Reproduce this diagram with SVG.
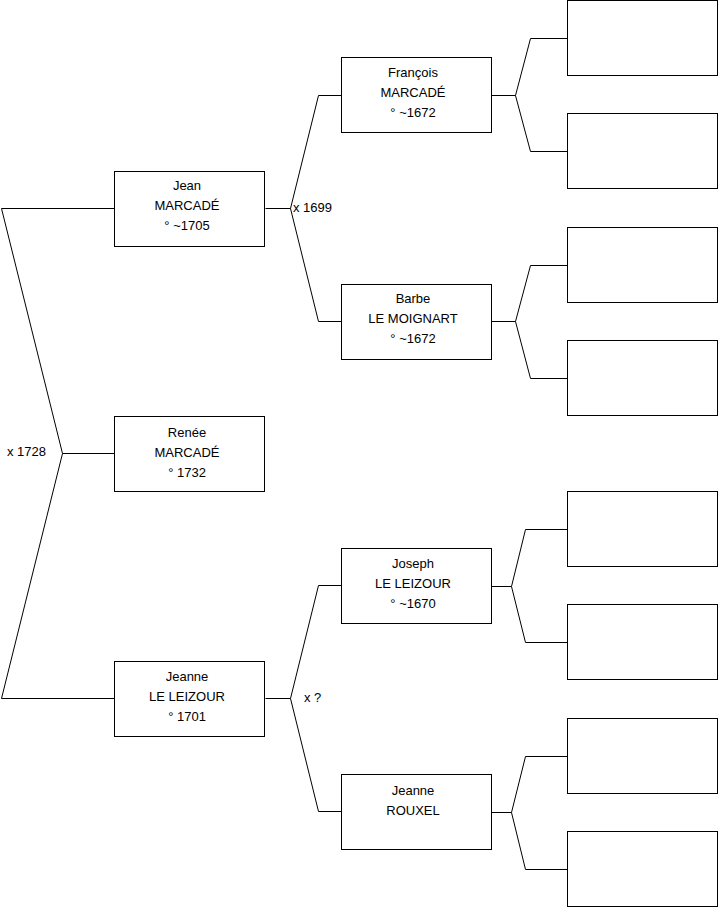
<svg xmlns="http://www.w3.org/2000/svg" width="719" height="908" viewBox="0 0 719 908">
<style>
.box{fill:#fff;stroke:#000;stroke-width:1}
.ln{fill:none;stroke:#000;stroke-width:1}
text{font-family:"Liberation Sans",Arial,sans-serif;font-size:13px;fill:#000}
.c{text-anchor:middle}
</style>
<rect width="719" height="908" fill="#fff"/>
<g id="connectors">
<polyline class="ln" points="114.5,208.5 1.5,208.5 62.5,453.5 1.5,698.5 114.5,698.5"/>
<line class="ln" x1="62.5" y1="453.5" x2="114.5" y2="453.5"/>
<polyline class="ln" points="341.5,95.5 318.5,95.5 290.5,208.5 318.5,321.5 341.5,321.5"/>
<line class="ln" x1="265.5" y1="208.5" x2="290.5" y2="208.5"/>
<polyline class="ln" points="341.5,585.5 318.5,585.5 290.5,698.5 318.5,811.5 341.5,811.5"/>
<line class="ln" x1="265.5" y1="698.5" x2="290.5" y2="698.5"/>
<polyline class="ln" points="567.5,38.5 530.5,38.5 515.5,95.5 530.5,151.5 567.5,151.5"/>
<line class="ln" x1="491.5" y1="95.5" x2="515.5" y2="95.5"/>
<polyline class="ln" points="567.5,265.5 530.5,265.5 515.5,321.5 530.5,378.5 567.5,378.5"/>
<line class="ln" x1="491.5" y1="321.5" x2="515.5" y2="321.5"/>
<polyline class="ln" points="567.5,529.5 525.5,529.5 511.5,586.5 525.5,642.5 567.5,642.5"/>
<line class="ln" x1="491.5" y1="586.5" x2="511.5" y2="586.5"/>
<polyline class="ln" points="567.5,756.5 525.5,756.5 511.5,812.5 525.5,869.5 567.5,869.5"/>
<line class="ln" x1="491.5" y1="812.5" x2="511.5" y2="812.5"/>
<text x="7" y="456">x 1728</text>
<text x="293" y="212">x 1699</text>
<text x="304" y="702">x ?</text>
</g>
<g id="jean"><rect class="box" x="114.5" y="171.5" width="150" height="75"/>
<text class="c" x="187" y="190">Jean</text><text class="c" x="187" y="210">MARCADÉ</text><text class="c" x="187" y="230">° ~1705</text></g>
<g id="renee"><rect class="box" x="114.5" y="416.5" width="150" height="75"/>
<text class="c" x="187" y="437">Renée</text><text class="c" x="187" y="457">MARCADÉ</text><text class="c" x="187" y="477">° 1732</text></g>
<g id="jeanne-leizour"><rect class="box" x="114.5" y="661.5" width="150" height="75"/>
<text class="c" x="187" y="681">Jeanne</text><text class="c" x="187" y="701">LE LEIZOUR</text><text class="c" x="187" y="721">° 1701</text></g>
<g id="francois"><rect class="box" x="341.5" y="57.5" width="150" height="75"/>
<text class="c" x="413" y="77">François</text><text class="c" x="413" y="97">MARCADÉ</text><text class="c" x="413" y="117">° ~1672</text></g>
<g id="barbe"><rect class="box" x="341.5" y="284.5" width="150" height="75"/>
<text class="c" x="413" y="303">Barbe</text><text class="c" x="413" y="323">LE MOIGNART</text><text class="c" x="413" y="343">° ~1672</text></g>
<g id="joseph"><rect class="box" x="341.5" y="548.5" width="150" height="75"/>
<text class="c" x="413" y="568">Joseph</text><text class="c" x="413" y="588">LE LEIZOUR</text><text class="c" x="413" y="608">° ~1670</text></g>
<g id="jeanne-rouxel"><rect class="box" x="341.5" y="774.5" width="150" height="75"/>
<text class="c" x="413" y="795">Jeanne</text><text class="c" x="413" y="815">ROUXEL</text></g>
<g id="p1"><rect class="box" x="567.5" y="0.5" width="150" height="75"/></g>
<g id="p2"><rect class="box" x="567.5" y="113.5" width="150" height="75"/></g>
<g id="p3"><rect class="box" x="567.5" y="227.5" width="150" height="75"/></g>
<g id="p4"><rect class="box" x="567.5" y="340.5" width="150" height="75"/></g>
<g id="p5"><rect class="box" x="567.5" y="491.5" width="150" height="75"/></g>
<g id="p6"><rect class="box" x="567.5" y="604.5" width="150" height="75"/></g>
<g id="p7"><rect class="box" x="567.5" y="718.5" width="150" height="75"/></g>
<g id="p8"><rect class="box" x="567.5" y="831.5" width="150" height="75"/></g>
</svg>
